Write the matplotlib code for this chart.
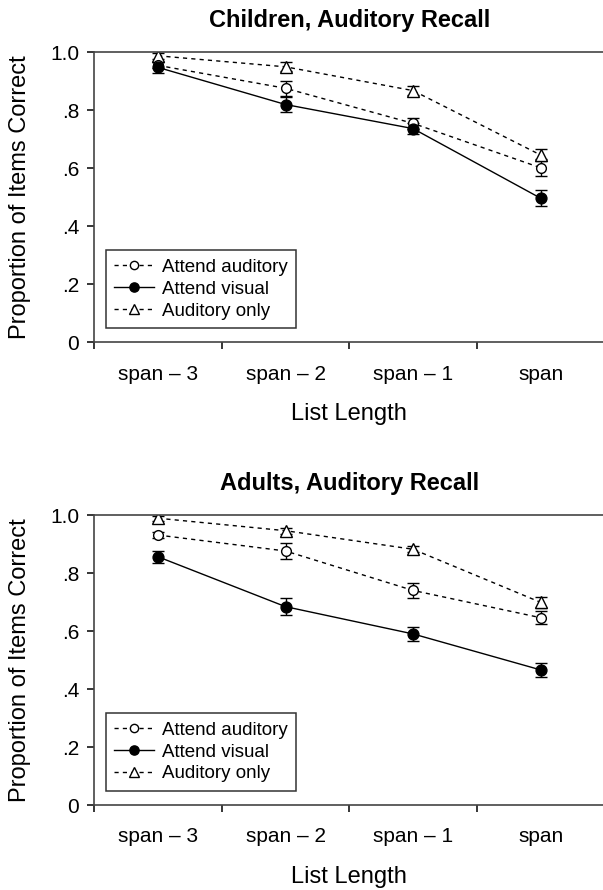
import numpy as np
import matplotlib
matplotlib.use('Agg')
import matplotlib.pyplot as plt
from matplotlib.ticker import FixedLocator

plt.rcParams['font.family'] = ['Liberation Sans', 'DejaVu Sans']

list_lengths = ['span \u2013 3', 'span \u2013 2', 'span \u2013 1', 'span']
y_ticks = [0, 0.2, 0.4, 0.6, 0.8, 1.0]
y_ticklabels = ['0', '.2', '.4', '.6', '.8', '1.0']

# children
child_att_aud = [0.955, 0.876, 0.755, 0.602]
child_att_aud_err = [0.010, 0.025, 0.020, 0.030]
child_att_vis = [0.948, 0.820, 0.737, 0.497]
child_att_vis_err = [0.020, 0.026, 0.020, 0.027]
child_aud_only = [0.988, 0.950, 0.868, 0.646]
child_aud_only_err = [0.010, 0.016, 0.016, 0.022]

# adults
adult_att_aud = [0.931, 0.876, 0.740, 0.646]
adult_att_aud_err = [0.010, 0.026, 0.025, 0.023]
adult_att_vis = [0.856, 0.684, 0.590, 0.466]
adult_att_vis_err = [0.020, 0.030, 0.024, 0.024]
adult_aud_only = [0.989, 0.946, 0.882, 0.699]
adult_aud_only_err = [0.008, 0.010, 0.010, 0.020]

panels = [
    ('Children, Auditory Recall', child_att_aud, child_att_aud_err,
     child_att_vis, child_att_vis_err, child_aud_only, child_aud_only_err),
    ('Adults, Auditory Recall', adult_att_aud, adult_att_aud_err,
     adult_att_vis, adult_att_vis_err, adult_aud_only, adult_aud_only_err),
]

fig = plt.figure(figsize=(6.03, 8.9), dpi=100)
bottoms = [0.6154, 0.0955]
x = np.arange(1, len(list_lengths) + 1)

for (title, aa, aa_e, av, av_e, ao, ao_e), b in zip(panels, bottoms):
    ax = fig.add_axes([0.1564, b, 0.8458, 0.3258])
    common = dict(color='black', lw=1.0, capsize=4.5, capthick=1.3,
                  elinewidth=1.0, markeredgecolor='black', markeredgewidth=1.0)
    l3 = ax.errorbar(x, ao, yerr=ao_e, ls=(0, (3, 3)), marker='^', ms=8.5,
                     mfc='white', label='Auditory only', **common)
    l1 = ax.errorbar(x, aa, yerr=aa_e, ls=(0, (3, 3)), marker='o', ms=7,
                     mfc='white', label='Attend auditory', **common)
    l2 = ax.errorbar(x, av, yerr=av_e, ls='-', marker='o', ms=7.8,
                     mfc='black', label='Attend visual', **common)

    ax.set_xlim(0.5, 4.5)
    ax.set_ylim(0, 1.0)
    ax.set_xticks(x)
    ax.set_xticklabels(list_lengths, fontsize=15)
    ax.xaxis.set_minor_locator(FixedLocator([0.5, 1.5, 2.5, 3.5]))
    ax.tick_params(axis='x', which='major', length=0, pad=16)
    ax.tick_params(axis='x', which='minor', length=5, width=1.1, direction='out')
    ax.set_yticks(y_ticks)
    ax.set_yticklabels(y_ticklabels, fontsize=15)
    ax.tick_params(axis='y', length=5, width=1.1, direction='out', pad=6)

    for s in ['left', 'bottom', 'top']:
        ax.spines[s].set_color('#444444')
        ax.spines[s].set_linewidth(1.2)
    ax.spines['right'].set_visible(False)

    ax.set_title(title, fontsize=17, fontweight='bold', pad=18)
    ax.set_xlabel('List Length', fontsize=17)
    ax.xaxis.set_label_coords(0.5, -0.21)
    ax.set_ylabel('Proportion of Items Correct', fontsize=17)
    ax.yaxis.set_label_coords(-0.125, 0.5)

    handles = [l1[0], l2[0], l3[0]]
    leg = ax.legend(handles, ['Attend auditory', 'Attend visual', 'Auditory only'],
                    loc='lower left', bbox_to_anchor=(0.023, 0.049),
                    borderaxespad=0, fontsize=13.5, fancybox=False,
                    edgecolor='#333333', framealpha=1, handlelength=2.1,
                    handletextpad=0.45, labelspacing=0.25, borderpad=0.45,
                    markerscale=0.85)
    leg.get_frame().set_linewidth(1.1)

fig.savefig('out.png', dpi=100)
